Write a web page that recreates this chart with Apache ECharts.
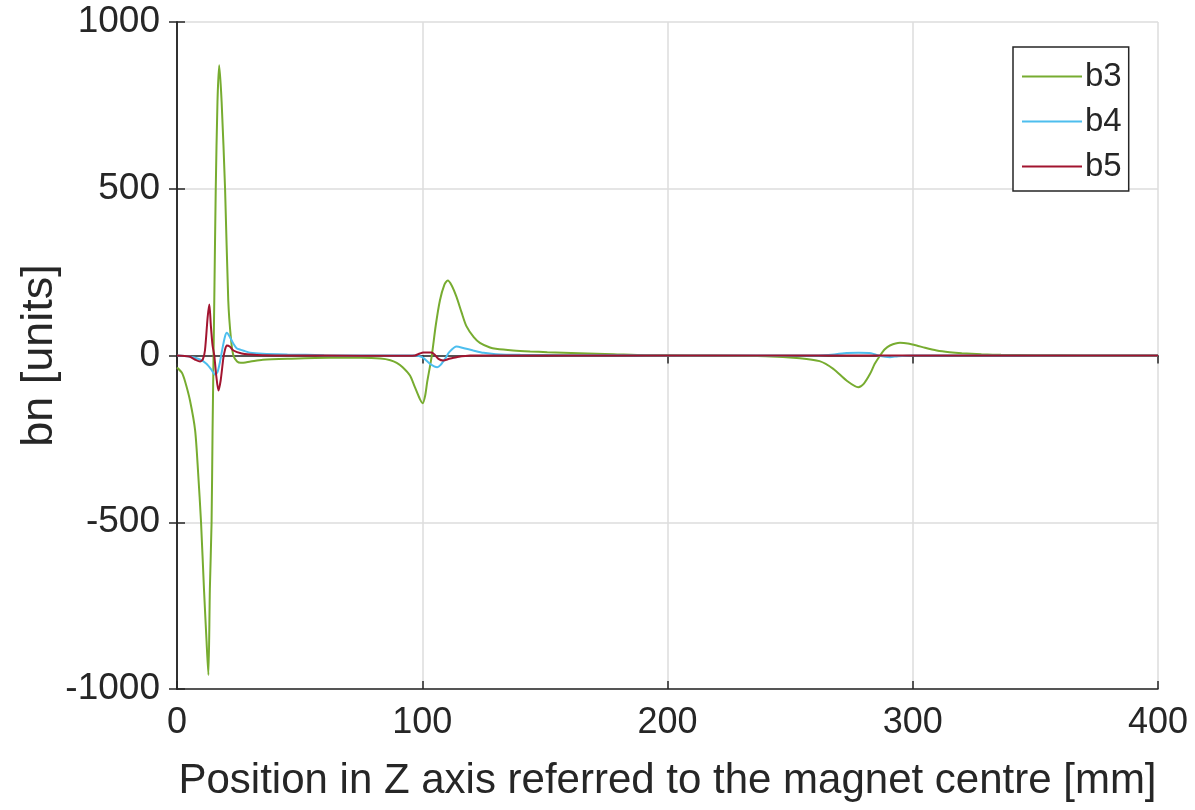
<!DOCTYPE html>
<html>
<head>
<meta charset="utf-8">
<script src="https://cdn.jsdelivr.net/npm/echarts@6/dist/echarts.min.js"></script>
<style>
html,body{margin:0;padding:0;background:#fff;}
#chart{width:1195px;height:810px;}
</style>
</head>
<body>
<div id="chart"></div>
<script>
// ---- data ----
const seriesNames = ['b3', 'b4', 'b5'];
const xTicks = [0, 100, 200, 300, 400];
const yTicks = [-1000, -500, 0, 500, 1000];

const b3Pos = [0, 2, 3.3, 5.3, 7.4, 8.6, 9.8, 11, 12, 12.8, 13.4, 14.1, 14.5, 14.9, 15.2, 15.8, 16.5, 17.2, 18.2, 19.6, 20.9, 22, 23, 24.5, 26, 30, 35, 45, 62, 75, 83, 87, 89.6, 92, 95, 97, 99, 100.2, 101.2, 102, 103.8, 105.5, 107.2, 109, 110.4, 112, 114, 116, 118, 121, 123.5, 127.6, 130, 137, 144, 151, 164, 178, 191, 210, 240, 254, 262, 267.6, 273, 277.8, 280, 282.6, 284.5, 286.7, 288.5, 290.7, 294.8, 298, 301.6, 305, 309.8, 315, 320, 328, 336, 350, 370, 400];
const b3Val = [-36, -52, -78, -135, -225, -350, -500, -700, -850, -958, -700, -500, -225, 0, 165, 500, 760, 870, 760, 500, 165, 50, 0, -18, -22, -18, -13, -10, -7, -7, -9, -14, -22, -35, -60, -95, -130, -143, -120, -80, -5, 90, 165, 212, 225, 210, 175, 130, 88, 55, 38, 24, 20, 15, 12, 10, 7, 4, 1, 0, -2, -8, -17, -40, -75, -95, -85, -55, -25, 0, 18, 30, 38, 36, 30, 23, 15, 10, 7, 4, 2, 1, 0, 0];

const b4Pos = [0, 5, 9.4, 12, 14, 15.5, 16.5, 17.5, 18.5, 19.5, 20.3, 21.6, 23, 24.3, 26, 27.7, 29.8, 35, 45, 60, 80, 97, 100, 103.2, 106.1, 107.5, 109.3, 111, 114, 117, 120.8, 125, 130, 140, 160, 200, 260, 268, 272, 278, 283, 286, 290.7, 294, 300, 400];
const b4Val = [0, -3, -12, -25, -42, -57, -50, -20, 20, 55, 68, 55, 35, 22, 17, 13, 8, 5, 3, 1, 0, 0, -5, -25, -35, -28, -10, 10, 27, 22, 15, 8, 4, 2, 1, 0, 0, 3, 7, 8, 7, 0, -5, -2, 0, 0];

const b5Pos = [0, 5, 7.3, 9.4, 10.5, 11.4, 12.5, 13.2, 13.8, 14.5, 15.2, 16, 16.9, 17.8, 18.9, 19.6, 20.3, 21.5, 23, 26.4, 30, 35, 45, 60, 90, 97, 99, 100.4, 103.8, 105, 106.6, 108.6, 111, 114, 119.5, 400];
const b5Val = [0, -3, -12, -18, -12, 15, 115, 153, 90, 30, 0, -60, -105, -75, -8, 18, 30, 27, 15, 6, 3, 1, 0, 0, -1, 0, 6, 9, 9, 3, -10, -15, -10, -5, 0, 0];

const colors = ['#77AC30', '#4DBEEE', '#A2142F'];

function pairs(xs, ys) { return xs.map((x, i) => [x, ys[i]]); }

const textColor = '#262626';
const fontFam = '"Liberation Sans", Arial, Helvetica, sans-serif';

const chart = echarts.init(document.getElementById('chart'), null, {renderer: 'canvas'});
const frameAxis = {
  axisLine: {show: true, lineStyle: {color: textColor, width: 1.5}},
  axisTick: {show: true, inside: true, length: 8, lineStyle: {color: textColor, width: 1.5}},
  axisLabel: {show: false},
  splitLine: {show: false}
};
chart.setOption({
  animation: false,
  backgroundColor: '#fff',
  color: colors,
  grid: {left: 177, right: 37, top: 22, bottom: 121, containLabel: false},
  legend: {
    show: true,
    data: seriesNames,
    orient: 'vertical',
    left: 1013, top: 47,
    icon: 'rect',
    itemWidth: 60, itemHeight: 2,
    itemGap: 12,
    padding: [13, 7, 8, 9],
    backgroundColor: '#fff',
    borderColor: textColor, borderWidth: 1.5,
    borderRadius: 0,
    textStyle: {color: textColor, fontSize: 33, fontFamily: fontFam, padding: [0, 0, 0, -2]}
  },
  xAxis: [{
    type: 'value', min: xTicks[0], max: xTicks[xTicks.length - 1], interval: 100,
    position: 'bottom',
    name: 'Position in Z axis referred to the magnet centre [mm]',
    nameLocation: 'middle', nameGap: 71,
    nameTextStyle: {color: textColor, fontSize: 42, fontFamily: fontFam},
    axisLine: {show: true, onZero: false, lineStyle: {color: textColor, width: 1.5}},
    axisTick: {show: true, inside: true, length: 8, lineStyle: {color: textColor, width: 1.5}},
    axisLabel: {color: textColor, fontSize: 36, fontFamily: fontFam, margin: 16, formatter: v => String(v)},
    splitLine: {show: true, lineStyle: {color: '#dcdcdc', width: 1.5}}
  }, Object.assign({
    type: 'value', min: xTicks[0], max: xTicks[xTicks.length - 1], interval: 100, position: 'top'
  }, frameAxis)],
  yAxis: [{
    type: 'value', min: yTicks[0], max: yTicks[yTicks.length - 1], interval: 500,
    position: 'left',
    name: 'bn [units]',
    nameLocation: 'middle', nameGap: 115, nameRotate: 90, nameMoveOverlap: false,
    nameTextStyle: {color: textColor, fontSize: 45, fontFamily: fontFam},
    axisLine: {show: true, onZero: false, lineStyle: {color: textColor, width: 1.5}},
    axisTick: {show: true, inside: true, length: 8, lineStyle: {color: textColor, width: 1.5}},
    axisLabel: {color: textColor, fontSize: 37, fontFamily: fontFam, margin: 17, formatter: v => String(v)},
    splitLine: {show: true, lineStyle: {color: '#dcdcdc', width: 1.5}}
  }, Object.assign({
    type: 'value', min: yTicks[0], max: yTicks[yTicks.length - 1], interval: 500, position: 'right'
  }, frameAxis)],
  series: [
    {name: seriesNames[0], type: 'line', data: pairs(b3Pos, b3Val), showSymbol: false, symbol: 'none', smooth: 0.25, lineStyle: {width: 2, color: colors[0]}},
    {name: seriesNames[1], type: 'line', data: pairs(b4Pos, b4Val), showSymbol: false, symbol: 'none', smooth: 0.25, lineStyle: {width: 2, color: colors[1]}},
    {name: seriesNames[2], type: 'line', data: pairs(b5Pos, b5Val), showSymbol: false, symbol: 'none', smooth: 0.25, lineStyle: {width: 2, color: colors[2]}}
  ]
});
</script>
</body>
</html>
